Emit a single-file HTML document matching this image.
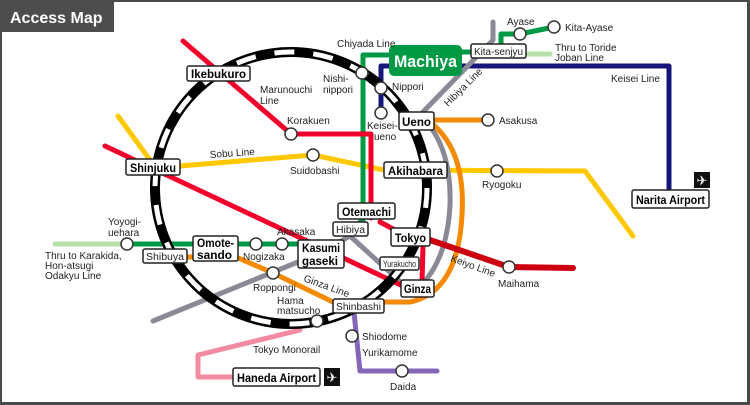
<!DOCTYPE html>
<html><head><meta charset="utf-8"><style>
html,body{margin:0;padding:0;background:#fff}
svg{display:block}
text{font-family:"Liberation Sans",Arial,sans-serif;fill:#222}
.s{font-size:10px}
.b{font-size:12px;font-weight:bold;fill:#000}
.box{fill:#fff;stroke:#222;stroke-width:1.5}
.st{fill:#fff;stroke:#333;stroke-width:1.5}
.ln{fill:none;stroke-linecap:round;stroke-linejoin:round}
</style></head><body>
<svg width="750" height="405" viewBox="0 0 750 405" xmlns="http://www.w3.org/2000/svg">
<rect x="0" y="0" width="750" height="405" fill="#4a4a4a"/>
<rect x="2" y="2" width="745" height="400" fill="#fff"/>
<rect x="0" y="0" width="114" height="32" fill="#4d4d4d"/>
<text x="10" y="23" style="font-size:16px;font-weight:bold;fill:#fff">Access Map</text>

<path class="ln" d="M55,244 L127,244" stroke="#b5e0a8" stroke-width="5"/>
<path class="ln" d="M526,54 L550,54" stroke="#b5e0a8" stroke-width="5"/>
<path class="ln" d="M300,330 L198,355 L198,377 L235,377" stroke="#f28aa0" stroke-width="5"/>
<path class="ln" d="M354,312 L360,371 L437,371" stroke="#8466b8" stroke-width="5"/>
<path class="ln" d="M381,113 L381,66 L669,66 L669,190" stroke="#15157a" stroke-width="5"/>
<path class="ln" d="M118,116 L150,160" stroke="#ffc800" stroke-width="5"/>
<path class="ln" d="M180,166 L313,155 L384,170 L585,171 L633,236" stroke="#ffc800" stroke-width="5"/>
<path class="ln" d="M493,22 L493,40 L420,115 Q452,145 450,205 Q447,262 418,288" stroke="#8a8a96" stroke-width="5"/>
<path class="ln" d="M405,286 L350,236 L320,253 L153,321" stroke="#8a8a96" stroke-width="5"/>
<path class="ln" d="M434,120 L488,120" stroke="#f58a00" stroke-width="5"/>
<path class="ln" d="M430,122 Q466,150 462,215 Q458,292 410,302 L333,302 L273,273 L236,257 L187,257" stroke="#f58a00" stroke-width="5"/>
<path class="ln" d="M390,55 L363,55 L363,220 L348,232" stroke="#009a44" stroke-width="5"/>
<path class="ln" d="M127,244 L300,244" stroke="#009a44" stroke-width="5"/>
<path class="ln" d="M460,52 L475,52" stroke="#009a44" stroke-width="5"/>
<path class="ln" d="M501,50 L501,34 L520,34 L554,27" stroke="#009a44" stroke-width="5"/>
<path class="ln" d="M183,41 L291,134 L371,134 L371,218" stroke="#f0002a" stroke-width="5"/>
<path class="ln" d="M380,222 L410,238" stroke="#f0002a" stroke-width="5"/>
<path class="ln" d="M423,246 L422,282" stroke="#f0002a" stroke-width="5"/>
<path class="ln" d="M105,146 L405,287" stroke="#f0002a" stroke-width="5"/>
<path class="ln" d="M430,240 L509,267 L573,268" stroke="#cc0010" stroke-width="6"/>

<circle cx="291" cy="188" r="136" fill="none" stroke="#000" stroke-width="10"/>
<circle cx="291" cy="188" r="136" fill="none" stroke="#fff" stroke-width="5" stroke-dasharray="20 19"/>

<rect x="389" y="45" width="73" height="31" rx="5" fill="#009a44"/>
<text x="394" y="67" textLength="63" lengthAdjust="spacingAndGlyphs" style="font-size:17px;font-weight:bold;fill:#fff">Machiya</text>

<g class="st">
<circle cx="520" cy="34" r="6"/><circle cx="554" cy="27" r="6"/>
<circle cx="362" cy="73" r="6"/><circle cx="381" cy="88" r="6"/><circle cx="381" cy="113" r="6"/>
<circle cx="291" cy="134" r="6"/><circle cx="313" cy="155" r="6"/><circle cx="488" cy="120" r="6"/>
<circle cx="497" cy="171" r="6"/><circle cx="127" cy="244" r="6"/><circle cx="256" cy="244" r="6"/>
<circle cx="282" cy="244" r="6"/><circle cx="273" cy="273" r="6"/><circle cx="317" cy="321" r="6"/>
<circle cx="352" cy="336" r="6"/><circle cx="402" cy="371" r="6"/><circle cx="509" cy="267" r="6"/>
</g>

<g class="box">
<rect x="187" y="66" width="63" height="15" rx="2"/>
<rect x="126" y="159" width="54" height="16" rx="2"/>
<rect x="471" y="44" width="55" height="14" rx="2"/>
<rect x="399" y="112" width="35" height="18" rx="2"/>
<rect x="384" y="162" width="63" height="16" rx="2"/>
<rect x="632" y="190" width="77" height="18" rx="2"/>
<rect x="338" y="203" width="57" height="16" rx="2"/>
<rect x="333" y="222" width="35" height="14" rx="2"/>
<rect x="391" y="228" width="39" height="18" rx="2"/>
<rect x="380" y="257" width="39" height="13" rx="2"/>
<rect x="401" y="280" width="33" height="17" rx="2"/>
<rect x="333" y="299" width="51" height="14" rx="2"/>
<rect x="298" y="240" width="46" height="28" rx="2"/>
<rect x="193" y="236" width="45" height="25" rx="2"/>
<rect x="143" y="249" width="44" height="14" rx="2"/>
<rect x="233" y="368" width="87" height="18" rx="2"/>
</g>
<rect x="694" y="172" width="16" height="16" fill="#111"/>
<text x="702" y="185" text-anchor="middle" style="font-size:13px;fill:#fff">✈</text>
<rect x="324" y="368" width="16" height="18" fill="#111"/>
<text x="332" y="382" text-anchor="middle" style="font-size:13px;fill:#fff">✈</text>

<text class="b" x="191" y="78" textLength="55" lengthAdjust="spacingAndGlyphs">Ikebukuro</text>
<text class="b" x="130" y="172" textLength="46" lengthAdjust="spacingAndGlyphs">Shinjuku</text>
<text class="b" x="402" y="126" textLength="29" lengthAdjust="spacingAndGlyphs">Ueno</text>
<text class="b" x="388" y="175" textLength="55" lengthAdjust="spacingAndGlyphs">Akihabara</text>
<text class="b" x="636" y="204" textLength="69" lengthAdjust="spacingAndGlyphs">Narita Airport</text>
<text class="b" x="342" y="216" textLength="49" lengthAdjust="spacingAndGlyphs">Otemachi</text>
<text class="b" x="395" y="242" textLength="31" lengthAdjust="spacingAndGlyphs">Tokyo</text>
<text class="b" x="404" y="293" textLength="27" lengthAdjust="spacingAndGlyphs">Ginza</text>
<text class="b" x="302" y="252" textLength="38" lengthAdjust="spacingAndGlyphs">Kasumi</text>
<text class="b" x="302" y="265" textLength="36" lengthAdjust="spacingAndGlyphs">gaseki</text>
<text class="b" x="197" y="247" textLength="37" lengthAdjust="spacingAndGlyphs">Omote-</text>
<text class="b" x="197" y="259" textLength="35" lengthAdjust="spacingAndGlyphs">sando</text>
<text class="b" x="237" y="382" textLength="79" lengthAdjust="spacingAndGlyphs">Haneda Airport</text>
<text class="s" x="474" y="55" textLength="49" lengthAdjust="spacingAndGlyphs">Kita-senjyu</text>
<text class="s" x="336" y="233" textLength="29" lengthAdjust="spacingAndGlyphs">Hibiya</text>
<text class="s" x="383" y="267" textLength="33" lengthAdjust="spacingAndGlyphs" style="font-size:9px">Yurakucho</text>
<text class="s" x="336" y="310" textLength="45" lengthAdjust="spacingAndGlyphs">Shinbashi</text>
<text class="s" x="146" y="260" textLength="38" lengthAdjust="spacingAndGlyphs">Shibuya</text>

<g class="s">
<text x="337" y="47">Chiyada Line</text>
<text x="323" y="82">Nishi-</text><text x="323" y="93">nippori</text>
<text x="260" y="93">Marunouchi</text><text x="260" y="104">Line</text>
<text x="287" y="124">Korakuen</text>
<text x="392" y="90">Nippori</text>
<text x="367" y="129">Keisei-</text><text x="374" y="140">ueno</text>
<text x="499" y="124">Asakusa</text>
<text x="611" y="82">Keisei Line</text>
<text x="507" y="25">Ayase</text>
<text x="565" y="31">Kita-Ayase</text>
<text x="555" y="51">Thru to Toride</text><text x="555" y="61">Joban Line</text>
<text x="448" y="107" transform="rotate(-45 448 107)">Hibiya Line</text>
<text x="210" y="158" transform="rotate(-4 210 158)">Sobu Line</text>
<text x="290" y="174">Suidobashi</text>
<text x="482" y="188">Ryogoku</text>
<text x="108" y="225">Yoyogi-</text><text x="108" y="236">uehara</text>
<text x="45" y="259">Thru to Karakida,</text><text x="45" y="269">Hon-atsugi</text><text x="45" y="279">Odakyu Line</text>
<text x="277" y="235">Akasaka</text>
<text x="243" y="260">Nogizaka</text>
<text x="253" y="291">Roppongi</text>
<text x="303" y="281" transform="rotate(20 303 281)">Ginza Line</text>
<text x="277" y="304">Hama</text><text x="277" y="314">matsucho</text>
<text x="253" y="353">Tokyo Monorail</text>
<text x="362" y="340">Shiodome</text>
<text x="362" y="356">Yurikamome</text>
<text x="390" y="390">Daida</text>
<text x="450" y="261" transform="rotate(20 450 261)">Keiyo Line</text>
<text x="498" y="287">Maihama</text>
</g>
</svg>
</body></html>
